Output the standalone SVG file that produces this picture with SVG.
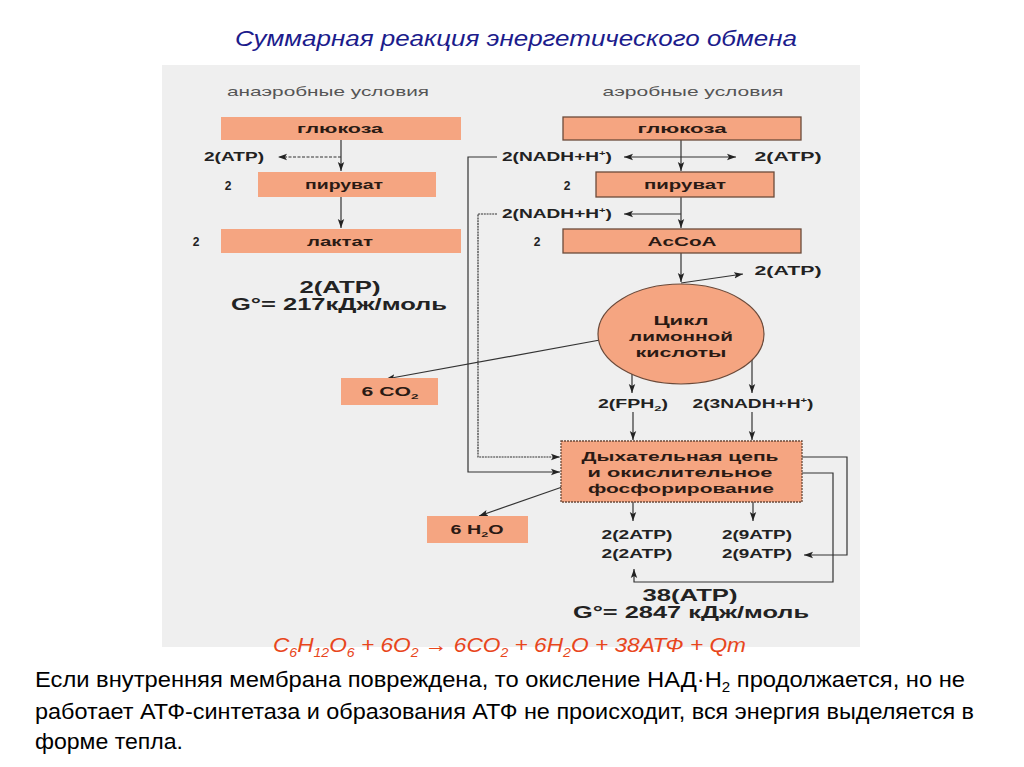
<svg xmlns="http://www.w3.org/2000/svg" width="1024" height="767" viewBox="0 0 1024 767">
<style>
.bx{fill:#f5a581}
.bb{fill:#f5a581;stroke:#6b4a3a;stroke-width:1.3}
.bt{font-family:"Liberation Sans",Arial,sans-serif;font-weight:bold;font-size:12.5px;fill:#2a1a14;text-anchor:middle}
.lb{font-family:"Liberation Sans",Arial,sans-serif;font-weight:bold;font-size:12px;fill:#222;text-anchor:middle}
.hd{font-family:"Liberation Sans",Arial,sans-serif;font-size:13px;fill:#555;text-anchor:middle}
.big{font-family:"Liberation Sans",Arial,sans-serif;font-weight:bold;font-size:16.5px;fill:#222;text-anchor:middle}
.ln{fill:none;stroke:#333;stroke-width:1.2}
.body{font-family:"Liberation Sans",Arial,sans-serif;font-size:22px;fill:#000}
</style>
<defs>
<marker id="ah" markerUnits="userSpaceOnUse" markerWidth="10" markerHeight="8" refX="9" refY="4" orient="auto">
<path d="M0,0.8 L9,4 L0,7.2 L2,4 z" fill="#222"/>
</marker>
</defs>
<rect width="1024" height="767" fill="#ffffff"/>
<rect x="162" y="65" width="698" height="582" fill="#efefef"/>
<text x="516" y="46" text-anchor="middle" font-family="'Liberation Sans',Arial,sans-serif" font-style="italic" font-size="22" fill="#1c1c8c" textLength="562" lengthAdjust="spacingAndGlyphs">Суммарная реакция энергетического обмена</text>

<g id="connectors">
<path class="ln" d="M341,140 V171" marker-end="url(#ah)"/>
<path class="ln" d="M341,157 H278" stroke-dasharray="3,1.5" marker-end="url(#ah)"/>
<path class="ln" d="M341,197 V228" marker-end="url(#ah)"/>
<path class="ln" d="M681,140 V171" marker-end="url(#ah)"/>
<path class="ln" d="M681,157 H624" marker-end="url(#ah)"/>
<path class="ln" d="M681,157 H736" marker-end="url(#ah)"/>
<path class="ln" d="M681,197 V228" marker-end="url(#ah)"/>
<path class="ln" d="M681,214 H624" marker-end="url(#ah)"/>
<path class="ln" d="M681,253 V282" marker-end="url(#ah)"/>
<path class="ln" d="M681,283 L743,274" marker-end="url(#ah)"/>
<path class="ln" d="M600,340 L386,379" marker-end="url(#ah)"/>
<path class="ln" d="M632,374 V393" marker-end="url(#ah)"/>
<path class="ln" d="M752,360 V393" marker-end="url(#ah)"/>
<path class="ln" d="M633,412 V440" marker-end="url(#ah)"/>
<path class="ln" d="M752,412 V440" marker-end="url(#ah)"/>
<path class="ln" d="M497,157 H468 V472 H560" marker-end="url(#ah)"/>
<path class="ln" d="M497,214 H478 V457 H560" stroke-dasharray="2,0.8" marker-end="url(#ah)"/>
<path class="ln" d="M565,486 L479,516" marker-end="url(#ah)"/>
<path class="ln" d="M633,502 V521" marker-end="url(#ah)"/>
<path class="ln" d="M753,502 V521" marker-end="url(#ah)"/>
<path class="ln" d="M802,457 H847 V555 H804" marker-end="url(#ah)"/>
<path class="ln" d="M802,473 H833 V582 H634 V569" marker-end="url(#ah)"/>
</g>

<g id="hdr-anaerob"><text class="hd" x="328" y="96" textLength="202" lengthAdjust="spacingAndGlyphs">анаэробные условия</text></g>
<g id="hdr-aerob"><text class="hd" x="693" y="96" textLength="181" lengthAdjust="spacingAndGlyphs">аэробные условия</text></g>

<g id="an-glucose"><rect class="bx" x="221" y="117" width="240" height="23"/><text class="bt" x="340" y="133" textLength="86" lengthAdjust="spacingAndGlyphs">глюкоза</text></g>
<g id="an-atp"><text class="lb" x="234" y="161" textLength="60" lengthAdjust="spacingAndGlyphs">2(ATP)</text></g>
<g id="an-2a"><text class="lb" x="228" y="190">2</text></g>
<g id="an-pyruvate"><rect class="bx" x="258" y="172" width="178" height="25"/><text class="bt" x="344" y="189" textLength="78" lengthAdjust="spacingAndGlyphs">пируват</text></g>
<g id="an-2b"><text class="lb" x="196" y="246">2</text></g>
<g id="an-lactate"><rect class="bx" x="221" y="229" width="240" height="24"/><text class="bt" x="340" y="246" textLength="66" lengthAdjust="spacingAndGlyphs">лактат</text></g>
<g id="an-total"><text class="big" x="340" y="293" textLength="81" lengthAdjust="spacingAndGlyphs">2(ATP)</text><text class="big" x="339" y="310" textLength="216" lengthAdjust="spacingAndGlyphs">G°= 217кДж/моль</text></g>

<g id="ae-glucose"><rect class="bb" x="563" y="117" width="238" height="23"/><text class="bt" x="682" y="133" textLength="89" lengthAdjust="spacingAndGlyphs">глюкоза</text></g>
<g id="ae-nadh1"><text class="lb" x="557" y="161" textLength="110" lengthAdjust="spacingAndGlyphs">2(NADH+H<tspan font-size="7" dy="-5">+</tspan><tspan dy="5">)</tspan></text></g>
<g id="ae-atp1"><text class="lb" x="788" y="161" textLength="67" lengthAdjust="spacingAndGlyphs">2(ATP)</text></g>
<g id="ae-2a"><text class="lb" x="567" y="190">2</text></g>
<g id="ae-pyruvate"><rect class="bb" x="596" y="172" width="178" height="25"/><text class="bt" x="685" y="189" textLength="82" lengthAdjust="spacingAndGlyphs">пируват</text></g>
<g id="ae-nadh2"><text class="lb" x="557" y="218" textLength="110" lengthAdjust="spacingAndGlyphs">2(NADH+H<tspan font-size="7" dy="-5">+</tspan><tspan dy="5">)</tspan></text></g>
<g id="ae-2b"><text class="lb" x="537" y="246">2</text></g>
<g id="ae-accoa"><rect class="bb" x="563" y="229" width="238" height="24"/><text class="bt" x="682" y="246" textLength="69" lengthAdjust="spacingAndGlyphs">AcCoA</text></g>
<g id="ae-atp2"><text class="lb" x="788" y="275" textLength="67" lengthAdjust="spacingAndGlyphs">2(ATP)</text></g>
<g id="ae-krebs"><ellipse cx="681" cy="334" rx="83" ry="50" fill="#f5a581" stroke="#6b4a3a" stroke-width="1.2"/>
<text class="bt" x="681" y="325" textLength="55" lengthAdjust="spacingAndGlyphs">Цикл</text><text class="bt" x="681" y="341" textLength="104" lengthAdjust="spacingAndGlyphs">лимонной</text><text class="bt" x="681" y="357" textLength="91" lengthAdjust="spacingAndGlyphs">кислоты</text></g>
<g id="co2"><rect class="bx" x="341" y="378" width="97" height="27"/><text class="bt" x="390" y="396" textLength="57" lengthAdjust="spacingAndGlyphs">6 CO<tspan font-size="8" dy="3">2</tspan></text></g>
<g id="fph2"><text class="lb" x="633" y="408" textLength="70" lengthAdjust="spacingAndGlyphs">2(FPH<tspan font-size="8" dy="3">2</tspan><tspan dy="-3">)</tspan></text></g>
<g id="nadh3"><text class="lb" x="753" y="408" textLength="121" lengthAdjust="spacingAndGlyphs">2(3NADH+H<tspan font-size="7" dy="-5">+</tspan><tspan dy="5">)</tspan></text></g>
<g id="resp"><rect class="bb" x="561" y="441" width="241" height="61" stroke-dasharray="2,1"/>
<text class="bt" x="680" y="461" textLength="197" lengthAdjust="spacingAndGlyphs">Дыхательная цепь</text><text class="bt" x="680" y="477" textLength="185" lengthAdjust="spacingAndGlyphs">и окислительное</text><text class="bt" x="681" y="493" textLength="186" lengthAdjust="spacingAndGlyphs">фосфорирование</text></g>
<g id="h2o"><rect class="bx" x="427" y="516" width="101" height="27"/><text class="bt" x="477" y="534" textLength="53" lengthAdjust="spacingAndGlyphs">6 H<tspan font-size="8" dy="3">2</tspan><tspan dy="-3">O</tspan></text></g>
<g id="atp22"><text class="lb" x="637" y="539" textLength="71" lengthAdjust="spacingAndGlyphs">2(2ATP)</text><text class="lb" x="637" y="558" textLength="71" lengthAdjust="spacingAndGlyphs">2(2ATP)</text></g>
<g id="atp29"><text class="lb" x="757" y="539" textLength="70" lengthAdjust="spacingAndGlyphs">2(9ATP)</text><text class="lb" x="757" y="558" textLength="70" lengthAdjust="spacingAndGlyphs">2(9ATP)</text></g>
<g id="ae-total"><text class="big" x="690" y="601" textLength="95" lengthAdjust="spacingAndGlyphs">38(ATP)</text><text class="big" x="691" y="618" textLength="236" lengthAdjust="spacingAndGlyphs">G°= 2847 кДж/моль</text></g>

<text x="273" y="652" font-family="'Liberation Sans',Arial,sans-serif" font-style="italic" font-size="21" fill="#e8461c" textLength="473" lengthAdjust="spacingAndGlyphs">C<tspan font-size="13" dy="5">6</tspan><tspan dy="-5">H</tspan><tspan font-size="13" dy="5">12</tspan><tspan dy="-5">O</tspan><tspan font-size="13" dy="5">6</tspan><tspan dy="-5"> + 6O</tspan><tspan font-size="13" dy="5">2</tspan><tspan dy="-5"> → 6CO</tspan><tspan font-size="13" dy="5">2</tspan><tspan dy="-5"> + 6H</tspan><tspan font-size="13" dy="5">2</tspan><tspan dy="-5">O + 38АТФ + Qm</tspan></text>

<text class="body" x="35" y="687" textLength="930" lengthAdjust="spacingAndGlyphs">Если внутренняя мембрана повреждена, то окисление НАД·H<tspan font-size="14" dy="5">2</tspan><tspan dy="-5"> продолжается, но не</tspan></text>
<text class="body" x="35" y="719" textLength="939" lengthAdjust="spacingAndGlyphs">работает АТФ-синтетаза и образования АТФ не происходит, вся энергия выделяется в</text>
<text class="body" x="35" y="749" textLength="148" lengthAdjust="spacingAndGlyphs">форме тепла.</text>
</svg>
